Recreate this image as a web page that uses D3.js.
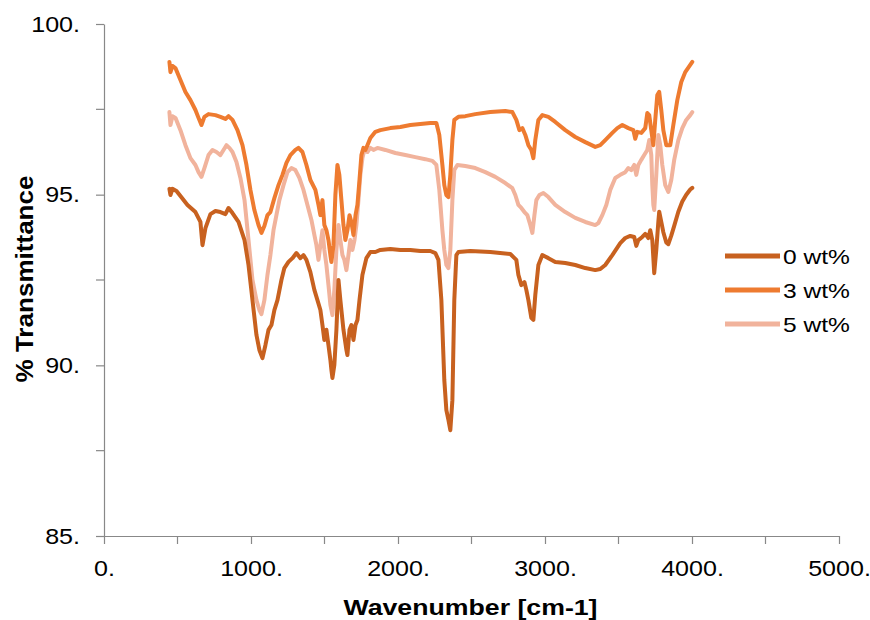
<!DOCTYPE html>
<html>
<head>
<meta charset="utf-8">
<script src="https://cdn.jsdelivr.net/npm/d3@7"></script>
<style>
body { margin:0; background:#fff; }
text { font-family: "Liberation Sans", Arial, sans-serif; fill:#000; }
</style>
</head>
<body>
<svg id="graph"></svg>
<script>
// values: [wavenumber, % transmittance]
var wt0 = [[445,95.17],[452,94.99],[466,95.17],[493,95.11],[520,94.96],[568,94.70],[622,94.49],[656,94.20],[670,93.52],[690,94.02],[724,94.43],[758,94.52],[792,94.49],[826,94.43],[847,94.61],[874,94.46],[915,94.20],[956,93.67],[983,92.94],[1010,91.91],[1037,90.89],[1057,90.45],[1078,90.21],[1098,90.59],[1119,91.04],[1139,91.18],[1159,91.62],[1180,91.91],[1207,92.50],[1227,92.85],[1255,93.03],[1282,93.14],[1309,93.29],[1336,93.14],[1357,93.23],[1377,93.09],[1404,92.73],[1431,92.21],[1452,91.91],[1472,91.62],[1486,91.18],[1499,90.74],[1513,91.04],[1527,90.59],[1540,90.16],[1547,89.86],[1554,89.63],[1567,90.01],[1581,91.04],[1595,92.50],[1608,91.91],[1629,91.04],[1649,90.45],[1656,90.30],[1670,91.04],[1683,91.18],[1697,90.74],[1711,91.18],[1724,91.33],[1738,91.91],[1758,92.65],[1785,93.14],[1812,93.32],[1846,93.32],[1880,93.38],[1948,93.41],[2016,93.38],[2084,93.38],[2152,93.35],[2220,93.35],[2254,93.29],[2275,93.09],[2295,91.91],[2315,89.57],[2329,88.69],[2343,88.40],[2356,88.10],[2370,88.98],[2383,91.91],[2397,93.23],[2411,93.32],[2492,93.35],[2628,93.32],[2764,93.26],[2805,93.09],[2819,92.65],[2839,92.35],[2860,92.44],[2873,92.21],[2887,91.91],[2907,91.39],[2921,91.33],[2934,92.06],[2955,92.94],[2982,93.23],[3023,93.14],[3070,93.03],[3138,93.00],[3206,92.94],[3274,92.85],[3342,92.79],[3376,92.82],[3410,92.94],[3458,93.23],[3512,93.58],[3546,93.73],[3580,93.79],[3607,93.76],[3621,93.50],[3635,93.67],[3662,93.76],[3682,93.85],[3703,93.73],[3716,93.96],[3730,93.67],[3743,92.70],[3757,93.38],[3771,94.20],[3777,94.50],[3791,94.20],[3805,93.90],[3825,93.60],[3839,93.55],[3859,93.80],[3880,94.10],[3907,94.50],[3934,94.80],[3961,95.00],[3988,95.15],[4002,95.20]];

var wt3 = [[445,98.89],[452,98.59],[466,98.77],[486,98.71],[520,98.36],[554,98.01],[588,97.77],[622,97.48],[643,97.25],[663,97.04],[683,97.28],[711,97.36],[758,97.33],[792,97.28],[826,97.22],[847,97.30],[874,97.19],[908,96.89],[942,96.45],[969,95.87],[996,95.14],[1023,94.55],[1051,94.11],[1071,93.88],[1091,94.08],[1112,94.40],[1132,94.49],[1159,94.90],[1187,95.28],[1214,95.58],[1241,95.93],[1268,96.16],[1302,96.31],[1323,96.37],[1350,96.25],[1377,95.87],[1404,95.43],[1438,95.14],[1459,94.70],[1472,94.40],[1486,94.84],[1499,94.11],[1513,93.96],[1527,93.67],[1540,93.23],[1547,93.03],[1561,93.52],[1574,94.99],[1588,95.87],[1601,95.58],[1615,94.84],[1629,94.11],[1642,93.67],[1656,93.96],[1670,94.40],[1683,94.20],[1697,93.82],[1711,94.40],[1724,94.70],[1738,95.43],[1751,96.16],[1765,96.37],[1778,96.31],[1792,96.45],[1812,96.66],[1846,96.84],[1880,96.89],[1948,96.95],[2016,96.98],[2084,97.04],[2152,97.07],[2220,97.10],[2261,97.10],[2281,96.75],[2302,95.87],[2315,95.28],[2329,94.99],[2343,94.93],[2356,95.58],[2370,96.60],[2383,97.19],[2411,97.28],[2458,97.30],[2526,97.36],[2628,97.42],[2730,97.45],[2778,97.42],[2805,97.19],[2826,96.89],[2846,96.95],[2866,96.75],[2887,96.45],[2907,96.31],[2921,96.07],[2934,96.60],[2955,97.19],[2982,97.33],[3023,97.28],[3070,97.13],[3138,96.89],[3206,96.69],[3274,96.54],[3342,96.40],[3376,96.45],[3410,96.60],[3458,96.81],[3492,96.95],[3526,97.04],[3567,96.95],[3601,96.89],[3614,96.64],[3628,96.84],[3655,96.81],[3682,96.95],[3696,97.39],[3709,97.33],[3723,96.89],[3737,96.45],[3750,97.19],[3764,97.92],[3777,98.01],[3791,97.48],[3805,96.89],[3825,96.45],[3852,96.45],[3873,97.04],[3900,97.77],[3927,98.30],[3954,98.59],[3988,98.80],[4002,98.89]];

var wt5 = [[445,97.42],[452,97.04],[466,97.30],[486,97.25],[520,96.89],[554,96.45],[588,96.07],[622,95.87],[643,95.66],[663,95.52],[683,95.78],[711,96.16],[738,96.31],[765,96.25],[792,96.16],[813,96.31],[833,96.45],[853,96.37],[874,96.25],[901,95.96],[928,95.49],[956,94.84],[983,93.67],[1010,92.50],[1037,91.91],[1057,91.62],[1071,91.50],[1091,91.91],[1112,92.65],[1132,93.23],[1153,93.96],[1173,94.40],[1193,94.84],[1221,95.28],[1248,95.66],[1275,95.78],[1302,95.72],[1329,95.49],[1357,95.14],[1384,94.70],[1411,94.26],[1431,93.82],[1445,93.52],[1459,93.09],[1472,93.52],[1486,93.96],[1499,93.38],[1513,92.94],[1527,92.35],[1540,91.77],[1554,91.47],[1567,92.21],[1581,93.38],[1595,94.11],[1608,93.67],[1622,93.23],[1635,93.09],[1649,92.79],[1663,93.23],[1676,93.67],[1690,93.38],[1704,93.67],[1717,94.11],[1731,94.84],[1744,95.58],[1758,96.07],[1771,96.31],[1792,96.25],[1812,96.37],[1833,96.31],[1860,96.37],[1914,96.31],[1982,96.22],[2050,96.16],[2118,96.10],[2186,96.04],[2234,95.99],[2261,95.87],[2281,95.14],[2302,93.96],[2315,93.38],[2329,92.94],[2343,92.85],[2356,93.38],[2370,94.84],[2383,95.72],[2404,95.87],[2458,95.84],[2526,95.78],[2594,95.66],[2662,95.52],[2730,95.34],[2778,95.19],[2798,94.99],[2819,94.70],[2839,94.61],[2860,94.49],[2880,94.40],[2900,94.11],[2914,93.88],[2928,94.40],[2941,94.84],[2962,94.99],[2989,95.05],[3023,94.93],[3070,94.70],[3138,94.49],[3206,94.32],[3274,94.20],[3342,94.11],[3363,94.17],[3390,94.40],[3417,94.70],[3444,95.14],[3478,95.49],[3512,95.58],[3546,95.66],[3567,95.78],[3587,95.72],[3607,95.87],[3621,95.58],[3635,95.87],[3655,96.02],[3675,96.16],[3696,96.31],[3709,96.60],[3723,96.16],[3730,95.28],[3737,94.70],[3743,94.55],[3757,95.58],[3771,96.75],[3784,96.45],[3798,95.87],[3818,95.28],[3839,95.08],[3859,95.43],[3879,96.02],[3907,96.60],[3934,96.95],[3961,97.19],[3988,97.33],[4002,97.42]];

var seriesNames = ["0 wt%", "3 wt%", "5 wt%"];
var seriesColors = ["#C8611F", "#EE7B30", "#F1B39C"];
var xTicks = [0, 1000, 2000, 3000, 4000, 5000];
var xMinorTicks = [500, 1500, 2500, 3500, 4500];
var yTicks = [85, 90, 95, 100];
var yMinorTicks = [87.5, 92.5, 97.5];

var screen = {width:870, height:620};
var margins = {top:24, left:104, right:31, bottom:84};
var graph = {
    width: screen.width - margins.left - margins.right,
    height: screen.height - margins.top - margins.bottom
};
var axisColor = "#888888";

var svg = d3.select("#graph")
    .attr("width", screen.width)
    .attr("height", screen.height);

var xScale = d3.scaleLinear().domain([0, 5000]).range([0, graph.width]);
var yScale = d3.scaleLinear().domain([85, 100]).range([graph.height, 0]);

var fmt = function(d) { return d + "."; };

// stretch text a bit wider, the source fonts look wider than Arial
var widen = function(sel, k) {
    sel.each(function() {
        var w = this.getComputedTextLength();
        d3.select(this).attr("textLength", w * k).attr("lengthAdjust", "spacingAndGlyphs");
    });
};

var g = svg.append("g")
    .attr("transform", "translate(" + margins.left + "," + margins.top + ")");

// axes
var xAxis = d3.axisBottom(xScale).tickValues(xTicks).tickFormat(fmt)
    .tickSizeInner(8).tickSizeOuter(0).tickPadding(16);
var yAxis = d3.axisLeft(yScale).tickValues(yTicks).tickFormat(fmt)
    .tickSizeInner(8).tickSizeOuter(0).tickPadding(16);

var xg = g.append("g").attr("transform", "translate(0," + graph.height + ")").call(xAxis);
var yg = g.append("g").call(yAxis);

// minor ticks
xg.selectAll(".minor").data(xMinorTicks).enter().append("line")
    .attr("x1", function(d) { return xScale(d); })
    .attr("x2", function(d) { return xScale(d); })
    .attr("y1", 0).attr("y2", 8);
yg.selectAll(".minor").data(yMinorTicks).enter().append("line")
    .attr("y1", function(d) { return yScale(d); })
    .attr("y2", function(d) { return yScale(d); })
    .attr("x1", 0).attr("x2", -8);

[xg, yg].forEach(function(a) {
    a.select(".domain").attr("stroke", axisColor).attr("stroke-width", 1.2);
    a.selectAll("line").attr("stroke", axisColor).attr("stroke-width", 1.2);
    a.selectAll("text").attr("font-size", 22).attr("font-family", "Liberation Sans, Arial, sans-serif").attr("fill", "#111");
});
widen(xg.selectAll(".tick text"), 1.14);
widen(yg.selectAll(".tick text"), 1.14);

// lines
var line = d3.line()
    .x(function(d) { return xScale(d[0]); })
    .y(function(d) { return yScale(d[1]); })
    .curve(d3.curveLinear);

var allSeries = [wt0, wt3, wt5];
// draw lightest first so the darker lines sit on top
[2, 1, 0].forEach(function(i) {
    g.append("path")
        .datum(allSeries[i])
        .attr("d", line)
        .attr("fill", "none")
        .attr("stroke", seriesColors[i])
        .attr("stroke-width", 4)
        .attr("stroke-linejoin", "round")
        .attr("stroke-linecap", "round");
});

// axis titles
svg.append("text")
    .attr("x", margins.left + xScale(2500) - 1)
    .attr("y", 615)
    .attr("text-anchor", "middle")
    .attr("font-size", 22)
    .attr("font-weight", "bold")
    .attr("textLength", 254)
    .attr("lengthAdjust", "spacingAndGlyphs")
    .text("Wavenumber [cm-1]");

svg.append("text")
    .attr("transform", "translate(33,279) rotate(-90)")
    .attr("text-anchor", "middle")
    .attr("font-size", 24)
    .attr("font-weight", "bold")
    .attr("textLength", 207)
    .attr("lengthAdjust", "spacingAndGlyphs")
    .text("% Transmittance");

// legend
var legend = svg.append("g").attr("transform", "translate(725,256)");
var items = legend.selectAll("g").data(seriesNames).enter().append("g")
    .attr("transform", function(d, i) { return "translate(0," + (i * 34) + ")"; });
items.append("line")
    .attr("x1", 0).attr("x2", 55).attr("y1", 0).attr("y2", 0)
    .attr("stroke", function(d, i) { return seriesColors[i]; })
    .attr("stroke-width", 5);
var lt = items.append("text")
    .attr("x", 58).attr("y", 8)
    .attr("font-size", 21)
    .text(function(d) { return d; });
widen(lt, 1.17);
</script>
</body>
</html>
